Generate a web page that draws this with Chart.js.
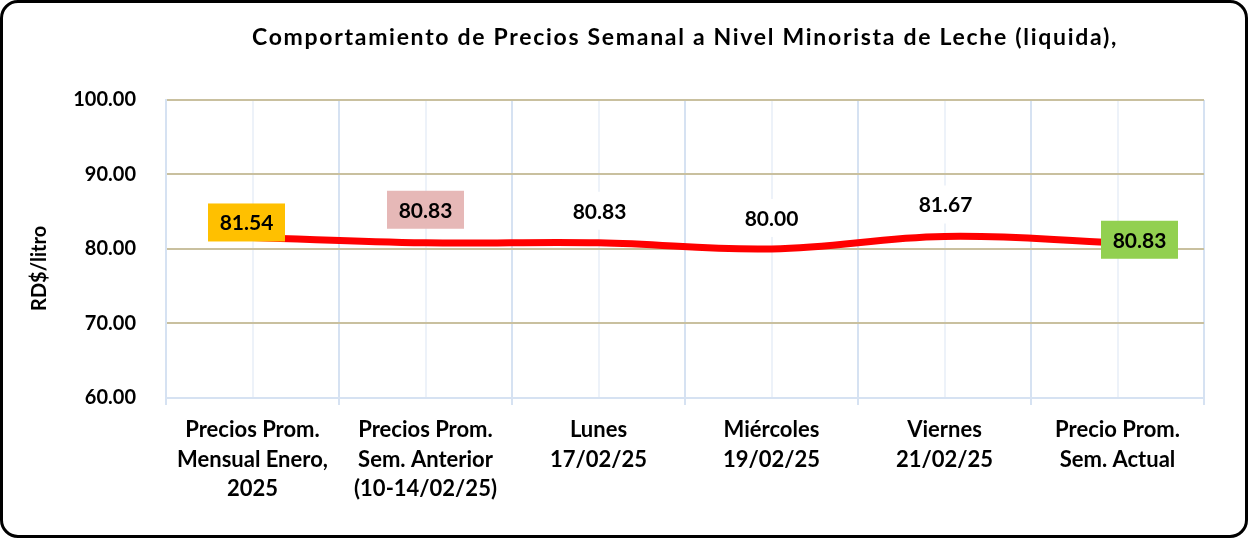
<!DOCTYPE html>
<html lang="es">
<head>
<meta charset="utf-8">
<title>Precios leche</title>
<script src="https://cdn.jsdelivr.net/npm/chart.js@4.4.1/dist/chart.umd.min.js"></script>
<style>
  html, body { margin: 0; padding: 0; background: #fff; }
  .wrap { position: relative; width: 1249px; height: 539px; }
  .frame {
    position: absolute; left: 0; top: 0; width: 1248px; height: 538px;
    box-sizing: border-box; border: 3px solid #000; border-radius: 18px;
    pointer-events: none;
  }
  canvas { position: absolute; left: 0; top: 0; }
</style>
</head>
<body>
<div class="wrap">
  <canvas id="lecheChart" width="1249" height="539"></canvas>
  <div class="frame"></div>
</div>
<script>
// datos del gráfico
const chartTitle = "Comportamiento de Precios Semanal a Nivel Minorista de Leche (liquida),";
const categories = [
  ["Precios Prom.", "Mensual Enero,", "2025"],
  ["Precios Prom.", "Sem. Anterior", "(10-14/02/25)"],
  ["Lunes", "17/02/25"],
  ["Miércoles", "19/02/25"],
  ["Viernes", "21/02/25"],
  ["Precio Prom.", "Sem. Actual"],
];
const prices = [81.54, 80.83, 80.83, 80.0, 81.67, 80.83];
const yMin = 60;
const yMax = 100;
const yStep = 10;

// estilos de las etiquetas (relleno y desplazamiento respecto al punto)
const labelFills = ["#ffc000", "#e6b8b7", "#ffffff", "#ffffff", "#ffffff", "#92d050"];
const labelOffsets = [[-6, -15], [0, -33], [1, -32], [0, -31], [1, -32], [22, -3]];

const FONT = "Lato, 'Open Sans', sans-serif";

// Título centrado sobre el área del gráfico, con algo de espaciado entre letras
const titlePlugin = {
  id: "titlePlugin",
  afterDraw(chart) {
    const ctx = chart.ctx;
    const area = chart.chartArea;
    ctx.save();
    ctx.font = "bold 23px " + FONT;
    if ("letterSpacing" in ctx) ctx.letterSpacing = "1.7px";
    ctx.fillStyle = "#000";
    ctx.textAlign = "center";
    ctx.textBaseline = "alphabetic";
    ctx.fillText(chartTitle, (area.left + area.right) / 2, 45);
    ctx.restore();
  },
};

// Etiquetas de datos con recuadro de color
const dataLabels = {
  id: "dataLabels",
  afterDatasetsDraw(chart) {
    const ctx = chart.ctx;
    const meta = chart.getDatasetMeta(0);
    ctx.save();
    ctx.font = "bold 21px " + FONT;
    ctx.textAlign = "center";
    ctx.textBaseline = "middle";
    meta.data.forEach(function (pt, i) {
      const text = prices[i].toFixed(2);
      const cx = pt.x + labelOffsets[i][0];
      const cy = pt.y + labelOffsets[i][1];
      const w = 77, h = 38;
      ctx.fillStyle = labelFills[i];
      ctx.fillRect(cx - w / 2, cy - h / 2, w, h);
      ctx.fillStyle = "#000";
      ctx.fillText(text, cx, cy + 1);
    });
    ctx.restore();
  },
};

new Chart(document.getElementById("lecheChart").getContext("2d"), {
  type: "line",
  data: {
    labels: categories,
    datasets: [
      {
        data: prices,
        borderColor: "#ff0000",
        borderWidth: 7,
        tension: 0.4,
        pointRadius: 0,
        fill: false,
      },
    ],
  },
  options: {
    responsive: false,
    animation: false,
    layout: { padding: { left: 20, right: 45, top: 100, bottom: 25 } },
    plugins: {
      legend: { display: false },
      tooltip: { enabled: false },
      title: { display: false },
    },
    scales: {
      x: {
        offset: true,
        grid: {
          offset: true,
          color: "#d6e2f2",
          lineWidth: 2,
          drawTicks: true,
          tickLength: 7,
        },
        border: { color: "#d6e2f2", width: 2 },
        ticks: {
          color: "#000",
          padding: 11,
          maxRotation: 0,
          autoSkip: false,
          font: { family: FONT, size: 22, weight: "bold", lineHeight: 1.32 },
        },
      },
      xCenter: {
        type: "category",
        position: "bottom",
        offset: true,
        grid: { offset: false, color: "#edf2f9", lineWidth: 2, drawTicks: false },
        border: { display: false },
        ticks: { display: false },
        afterFit(scale) { scale.height = 0; },
      },
      y: {
        min: yMin,
        max: yMax,
        ticks: {
          stepSize: yStep,
          color: "#000",
          padding: 30,
          font: { family: FONT, size: 20, weight: "bold" },
          callback: (v) => v.toFixed(2),
        },
        grid: {
          drawTicks: false,
          lineWidth: 2,
          color: (c) => (c.tick && c.tick.value === yMin ? "rgba(0,0,0,0)" : "#c9c09f"),
        },
        border: { color: "#d6e2f2", width: 2 },
        title: {
          display: true,
          text: "RD$/litro        ",
          color: "#000",
          font: { family: FONT, size: 20, weight: "bold" },
          padding: { top: 8, bottom: 0 },
        },
        afterFit(scale) { scale.width = 146; },
      },
    },
  },
  plugins: [dataLabels, titlePlugin],
});
</script>
</body>
</html>
